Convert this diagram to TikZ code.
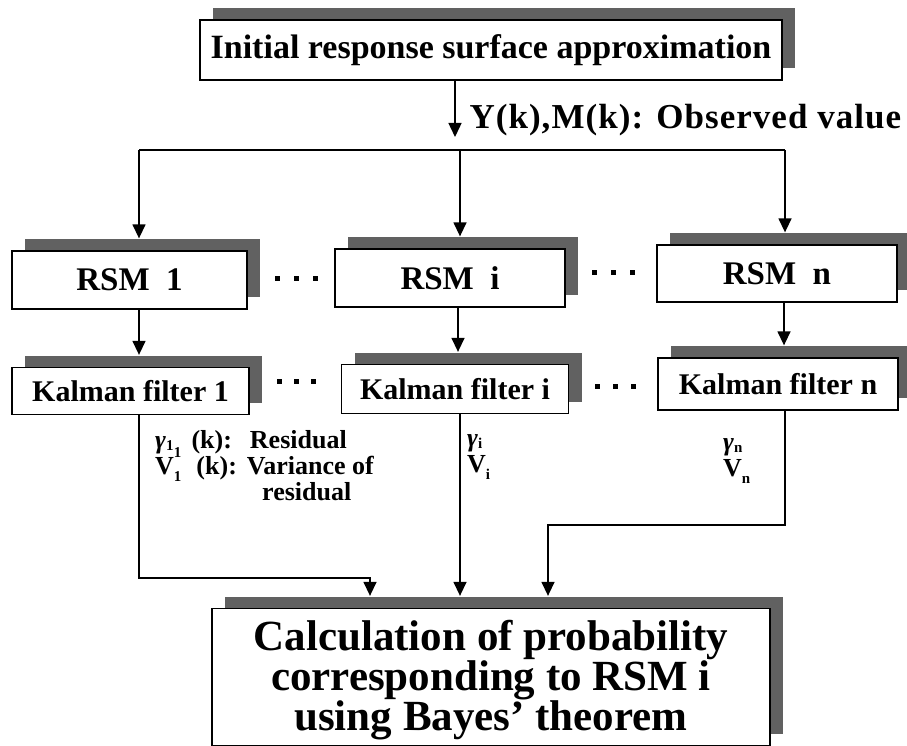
\documentclass[tikz,border=0pt]{standalone}
\usepackage{fontspec}
\setmainfont{Liberation Serif}
\usetikzlibrary{arrows.meta,shadows}
\newcommand{\gsub}[1]{\raisebox{-0.08em}{\fontsize{15}{15}\selectfont #1}}
\newcommand{\mysub}[1]{\raisebox{-0.28em}{\fontsize{15}{15}\selectfont #1}}
\newcommand{\mysupsub}[2]{\makebox[0pt][l]{\raisebox{0.62em}{\fontsize{15}{15}\selectfont #1}}\raisebox{-0.28em}{\fontsize{15}{15}\selectfont #2}}
\begin{document}
\begin{tikzpicture}[x=1pt,y=-1pt,
  box/.style={draw=black, fill=white, line width=1.3pt, inner sep=0pt,
    general shadow={fill=black!62, shadow xshift=13pt, shadow yshift=12pt}},
  ftop/.style={font=\bfseries\fontsize{34}{38}\selectfont},
  fobs/.style={font=\bfseries\fontsize{35}{38}\selectfont\addfontfeature{LetterSpace=3}},
  frsm/.style={font=\bfseries\fontsize{33}{36}\selectfont},
  fkal/.style={font=\bfseries\fontsize{30}{33}\selectfont},
  flab/.style={font=\bfseries\fontsize{26}{28}\selectfont, inner sep=0pt, text height=18pt, text depth=5pt},
  fbay/.style={font=\bfseries\fontsize{43}{36}\selectfont, align=center},
  ln/.style={line width=1.4pt},
  arr/.style={line width=1.4pt, -{Triangle[width=13pt,length=14pt]}},
  dotsq/.style={fill=black, minimum size=5pt, inner sep=0pt}]
\useasboundingbox (0,0) rectangle (907,746);
% boxes
\node[box, ftop, minimum width=582pt, minimum height=60pt] (top) at (491,50) {Initial response surface approximation};
\node[box, frsm, minimum width=235pt, minimum height=58pt] (r1) at (129.5,280) {RSM~~1};
\node[box, frsm, minimum width=230pt, minimum height=58pt] (r2) at (450,278) {RSM~~i};
\node[box, frsm, minimum width=240pt, minimum height=57pt] (r3) at (777,273.5) {RSM~~n};
\node[box, fkal, minimum width=237pt, minimum height=47pt] (k1) at (130.5,391) {Kalman filter 1};
\node[box, fkal, minimum width=227pt, minimum height=49pt] (k2) at (455,389) {Kalman filter i};
\node[box, fkal, minimum width=240pt, minimum height=52pt] (k3) at (778,384) {Kalman filter n};
\node[box, minimum width=558pt, minimum height=137pt] (bay) at (491,677) {};
\node[fbay, anchor=center] (baytxt) at (491,680) {Calculation of probability\\corresponding to RSM i\\using Bayes' theorem};
% dots
\foreach \x [count=\i] in {277,296,315} {\node[dotsq] (da\i) at (\x,278) {};}
\foreach \x [count=\i] in {594,613,632} {\node[dotsq] (db\i) at (\x,272) {};}
\foreach \x [count=\i] in {279,296,313} {\node[dotsq] (dc\i) at (\x,381) {};}
\foreach \x [count=\i] in {597,615,633} {\node[dotsq] (dd\i) at (\x,386) {};}
% label
\node[fobs, anchor=west] (obs) at (466,120) {Y(k),M(k): Observed value};
% shadow tops
\coordinate (r1t) at ([yshift=12pt]r1.north);
\coordinate (r2t) at ([yshift=12pt]r2.north);
\coordinate (r3t) at ([yshift=12pt]r3.north);
\coordinate (k1t) at ([yshift=12pt]k1.north);
\coordinate (k2t) at ([yshift=12pt]k2.north);
\coordinate (k3t) at ([yshift=12pt]k3.north);
\coordinate (bt) at ([yshift=12pt]bay.north);
% top arrow
\coordinate (ta) at (455,137);
\draw[arr] (ta |- top.south) -- (ta);
% distribution
\coordinate (h1) at (139,150);
\coordinate (h2) at (460,150);
\coordinate (h3) at (785,150);
\draw[ln] (h1) -- (h3);
\draw[arr] (h1) -- (h1 |- r1t);
\draw[arr] (h2) -- (h2 |- r2t);
\draw[arr] (h3) -- (h3 |- r3t);
% rsm to kalman
\coordinate (v1) at (139,0);
\coordinate (v2) at (458,0);
\coordinate (v3) at (784,0);
\draw[arr] (v1 |- r1.south) -- (v1 |- k1t);
\draw[arr] (v2 |- r2.south) -- (v2 |- k2t);
\draw[arr] (v3 |- r3.south) -- (v3 |- k3t);
% kalman to bayes
\coordinate (p1) at (139,578);
\coordinate (q1) at (370,578);
\draw[arr] (p1 |- k1.south) -- (p1) -- (q1) -- (q1 |- bt);
\coordinate (p2) at (460,0);
\draw[arr] (p2 |- k2.south) -- (p2 |- bt);
\coordinate (p3) at (785,525);
\coordinate (q3) at (548,525);
\draw[arr] (p3 |- k3.south) -- (p3) -- (q3) -- (q3 |- bt);
% residual labels
\node[flab, anchor=base west] (g1) at (155,448) {\textit{γ}\gsub{1}\hspace{18pt}(k):\hspace{18pt}Residual};
\node[flab, anchor=base west] (w1) at (155,474) {V\mysupsub{1}{1}\hspace{15pt}(k):\hspace{10pt}Variance of};
\node[flab, anchor=base west] (res) at (262,500) {residual};
\node[flab, anchor=base west] (g2) at (467,446) {\textit{γ}\gsub{i}};
\node[flab, anchor=base west] (w2) at (467,472) {V\mysub{i}};
\node[flab, anchor=base west] (g3) at (723,450) {\textit{γ}\gsub{n}};
\node[flab, anchor=base west] (w3) at (723,476) {V\mysub{n}};
\end{tikzpicture}
\end{document}
